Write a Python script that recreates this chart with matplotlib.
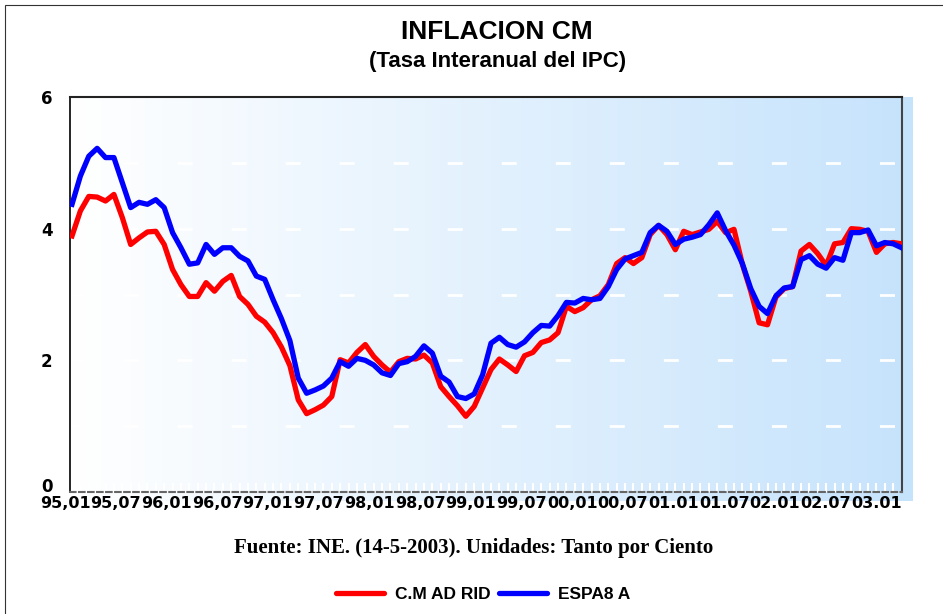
import numpy as np
import matplotlib
matplotlib.use("Agg")
import matplotlib.pyplot as plt
import matplotlib.transforms as mtransforms
from matplotlib.patches import Rectangle
from matplotlib.lines import Line2D

plt.rcParams['lines.scale_dashes'] = False

# ---------------- data ----------------
tick_labels = ['95,01', '95,07', '96,01', '96,07', '97,01', '97,07', '98,01', '98,07',
               '99,01', '99,07', '00,01', '00,07', '01.01', '01.07', '02.01', '02.07', '03.01']

madrid = [3.89, 4.27, 4.49, 4.48, 4.42, 4.52, 4.17, 3.76, 3.86, 3.95,
          3.96, 3.76, 3.38, 3.15, 2.97, 2.97, 3.18, 3.05, 3.20, 3.29,
          2.97, 2.85, 2.67, 2.58, 2.42, 2.20, 1.92, 1.40, 1.19, 1.25,
          1.32, 1.45, 2.01, 1.96, 2.12, 2.24, 2.06, 1.93, 1.82, 1.98,
          2.03, 2.02, 2.08, 1.96, 1.60, 1.45, 1.31, 1.15, 1.30, 1.58,
          1.86, 2.02, 1.93, 1.83, 2.07, 2.12, 2.27, 2.31, 2.42, 2.82,
          2.74, 2.80, 2.92, 2.98, 3.15, 3.47, 3.56, 3.47, 3.56, 3.91,
          4.05, 3.91, 3.68, 3.96, 3.91, 3.95, 3.99, 4.11, 3.94, 3.99,
          3.46, 3.05, 2.57, 2.54, 2.96, 3.09, 3.12, 3.66, 3.76, 3.62,
          3.44, 3.77, 3.79, 4.00, 3.99, 3.96, 3.64, 3.77, 3.79, 3.77]

espana = [4.37, 4.80, 5.10, 5.22, 5.08, 5.08, 4.70, 4.32, 4.40, 4.37,
          4.44, 4.32, 3.94, 3.71, 3.46, 3.48, 3.76, 3.61, 3.71, 3.71,
          3.58, 3.51, 3.28, 3.23, 2.92, 2.63, 2.30, 1.73, 1.50, 1.55,
          1.61, 1.73, 1.98, 1.91, 2.03, 2.00, 1.93, 1.81, 1.77, 1.95,
          1.98, 2.06, 2.22, 2.11, 1.76, 1.67, 1.45, 1.42, 1.49, 1.78,
          2.26, 2.35, 2.24, 2.20, 2.28, 2.42, 2.53, 2.52, 2.68, 2.88,
          2.87, 2.94, 2.92, 2.94, 3.12, 3.38, 3.54, 3.59, 3.64, 3.94,
          4.05, 3.96, 3.76, 3.84, 3.87, 3.91, 4.06, 4.24, 3.97, 3.75,
          3.47, 3.09, 2.82, 2.71, 2.98, 3.10, 3.12, 3.53, 3.59, 3.46,
          3.40, 3.56, 3.52, 3.94, 3.94, 3.98, 3.74, 3.79, 3.77, 3.71]

series_names = ['C.M AD RID', 'ESPA8 A']
grid_levels = [1, 2, 3, 4, 5]
y_ticks = [0, 2, 4, 6]

# ---------------- figure ----------------
W, H = 943, 614
fig = plt.figure(figsize=(W / 100, H / 100), dpi=100)
fig.patch.set_facecolor('white')

def px_rect(x0, y0, x1, y1):
    return [x0 / W, 1 - y1 / H, (x1 - x0) / W, (y1 - y0) / H]

# gradient background
bg = fig.add_axes(px_rect(70, 97, 912, 501))
bg.set_axis_off()
c0 = np.array([1.0, 1.0, 1.0])
c1 = np.array([198, 227, 252]) / 255.0
t = np.linspace(0, 1, 256)
grad = (c0[None, :] * (1 - t[:, None]) + c1[None, :] * t[:, None])[None, :, :]
bg.imshow(grad, aspect='auto', extent=[0, 1, 0, 1], interpolation='bilinear')
bg.set_xlim(0, 1)
bg.set_ylim(0, 1)

ax = fig.add_axes(px_rect(70, 97, 902, 492))
ax.set_facecolor('none')

x = np.arange(len(madrid))
for lv in grid_levels:
    ax.axhline(lv, color='white', lw=2.0, linestyle=(0.7, (10.8, 28.1)), zorder=1)

ax.plot(x, madrid, color='#FF0000', lw=3.8, solid_joinstyle='round', zorder=3)
ax.plot(x, espana, color='#0000FF', lw=3.8, solid_joinstyle='round', zorder=4)

ax.set_xlim(-0.24, len(madrid) - 1 + 0.05)
ax.set_ylim(0, 6)

# spines
ax.spines['left'].set_color('black')
ax.spines['left'].set_linewidth(1.2)
ax.spines['top'].set_color('#222222')
ax.spines['top'].set_linewidth(1.5)
ax.spines['right'].set_color('#444444')
ax.spines['right'].set_linewidth(1.5)
ax.spines['bottom'].set_color('#666666')
ax.spines['bottom'].set_linewidth(1.5)
ax.spines['bottom'].set_linestyle((0, (4, 2.5)))

# y ticks
ax.set_yticks(range(0, 7))
ax.set_yticklabels([str(v) if v in y_ticks else '' for v in range(0, 7)],
                   fontsize=12, fontweight='bold', family='DejaVu Sans')
ax.tick_params(axis='y', direction='inout', length=5, width=2, color='white', pad=10)
# nudge the "0" label up so it does not collide with the first x label
ylabs = ax.get_yticklabels()
ylabs[0].set_transform(ylabs[0].get_transform() +
                       mtransforms.ScaledTranslation(0, 0.07, fig.dpi_scale_trans))

# x ticks
ax.set_xticks(np.arange(0, len(madrid), 6)[:len(tick_labels)])
ax.set_xticklabels(tick_labels, fontsize=11.5, fontweight='bold', family='DejaVu Sans')
ax.set_xticks(np.arange(0, len(madrid)), minor=True)
ax.tick_params(axis='x', which='both', direction='in', length=6.5, width=1.5,
               color='white', pad=3.0)
n_lab = len(tick_labels)
for k, lab in enumerate(ax.get_xticklabels()):
    dx = (-7.0 + 7.0 * k / (n_lab - 1)) / 100.0
    lab.set_transform(lab.get_transform() +
                      mtransforms.ScaledTranslation(dx, 0, fig.dpi_scale_trans))

# titles
fig.text(497 / W, 1 - 32 / H, 'INFLACION CM', ha='center', va='center',
         family='Liberation Sans', fontweight='bold', fontsize=19)
fig.text(498 / W, 1 - 62 / H, '(Tasa Interanual del IPC)', ha='center', va='center',
         family='Liberation Sans', fontweight='bold', fontsize=16)
fig.text(474 / W, 1 - 548 / H, 'Fuente: INE. (14-5-2003). Unidades: Tanto por Ciento',
         ha='center', va='center', family='Liberation Serif', fontweight='bold', fontsize=15)

# legend
handles = [Line2D([], [], color='#FF0000', lw=3.8, solid_capstyle='round'),
           Line2D([], [], color='#0000FF', lw=3.8, solid_capstyle='round')]
leg = fig.legend(handles, series_names, loc='center', ncol=2, frameon=False,
                 bbox_to_anchor=(483 / W, 1 - 594 / H),
                 prop={'family': 'Liberation Sans', 'weight': 'bold', 'size': 12.5},
                 handlelength=2.77, handletextpad=0.63, columnspacing=0.5)

# outer frame
fig.patches.append(Rectangle((5 / W, -0.1), 1.2, 1 - 5 / H + 0.1,
                             transform=fig.transFigure, fill=False,
                             edgecolor='#333333', lw=0.8))

fig.savefig('out.png', dpi=100)
